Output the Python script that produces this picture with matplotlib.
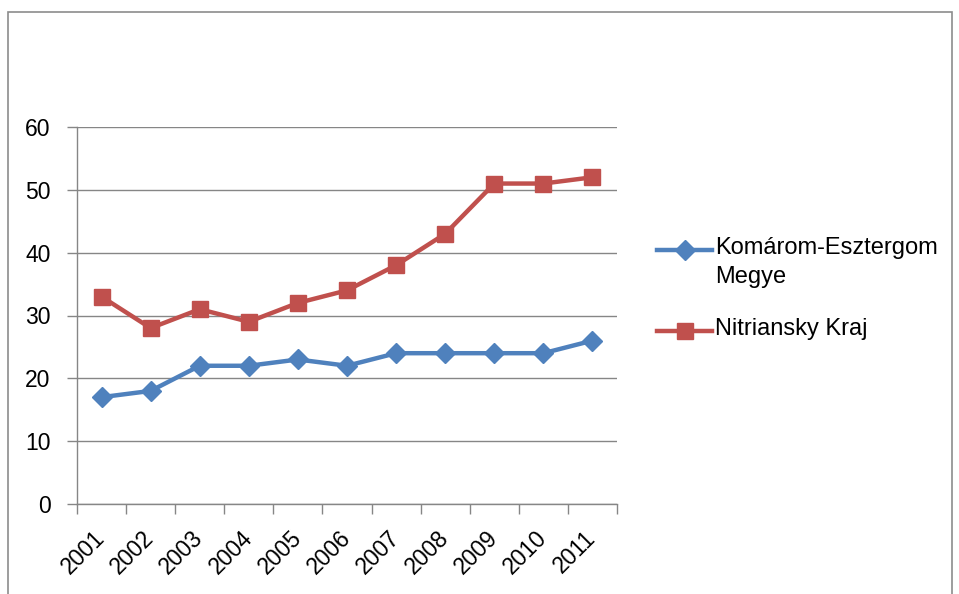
import matplotlib
matplotlib.use("Agg")
import matplotlib.pyplot as plt
from matplotlib.lines import Line2D
from matplotlib.patches import Rectangle

years = ["2001", "2002", "2003", "2004", "2005", "2006",
         "2007", "2008", "2009", "2010", "2011"]
komarom = [17, 18, 22, 22, 23, 22, 24, 24, 24, 24, 26]
nitriansky = [33, 28, 31, 29, 32, 34, 38, 43, 51, 51, 52]
series_names = ["Komárom-Esztergom\nMegye", "Nitriansky Kraj"]

blue = "#4F81BD"
red = "#C0504D"
grid_col = "#868686"

plt.rcParams["font.family"] = ["Liberation Sans", "DejaVu Sans"]

W, H = 959, 594
fig = plt.figure(figsize=(W / 100, H / 100), dpi=100)
ax = fig.add_axes([77 / W, 1 - 504 / H, 540 / W, 377 / H])

x = list(range(len(years)))
ax.plot(x, komarom, color=blue, lw=3.2, marker="D", ms=10, zorder=3)
ax.plot(x, nitriansky, color=red, lw=3.2, marker="s", ms=11, zorder=3)

ax.set_xlim(-0.5, len(years) - 0.5)
ax.set_ylim(0, 60)
ax.set_yticks(range(0, 61, 10))
ax.yaxis.grid(True, color=grid_col, lw=1)
ax.set_axisbelow(True)

ax.set_xticks(x)
ax.set_xticklabels(years, rotation=45, ha="right", va="center",
                   rotation_mode="anchor")
ax.set_xticks([i - 0.5 for i in range(len(years) + 1)], minor=True)
ax.tick_params(axis="x", which="major", length=0, pad=22, labelsize=16.5)
ax.tick_params(axis="x", which="minor", length=7, color=grid_col, width=1)
ax.tick_params(axis="y", length=7, color=grid_col, width=1, labelsize=16.5, pad=12)

for s in ["top", "right"]:
    ax.spines[s].set_visible(False)
for s in ["left", "bottom"]:
    ax.spines[s].set_color(grid_col)
    ax.spines[s].set_linewidth(1)

# legend drawn by hand to keep the handle on the first text line
leg = [(blue, "D", 10, 250), (red, "s", 11, 331)]
for (col, mk, ms, yy), name in zip(leg, series_names):
    fy = 1 - yy / H
    fig.add_artist(Line2D([657 / W, 712 / W], [fy, fy], color=col, lw=3.2,
                          transform=fig.transFigure))
    fig.add_artist(Line2D([684.5 / W], [fy], color=col, marker=mk, ms=ms,
                          transform=fig.transFigure))
    fig.text(715 / W, fy + 13 / H, name, fontsize=17, va="top", ha="left",
             linespacing=1.4, transform=fig.transFigure)

fig.add_artist(Rectangle((8 / W, -0.02), 944 / W, 1.02 - 12 / H, fill=False,
                         edgecolor="#8c8c8c", lw=1.2, transform=fig.transFigure))

fig.savefig("out.png", dpi=100)
